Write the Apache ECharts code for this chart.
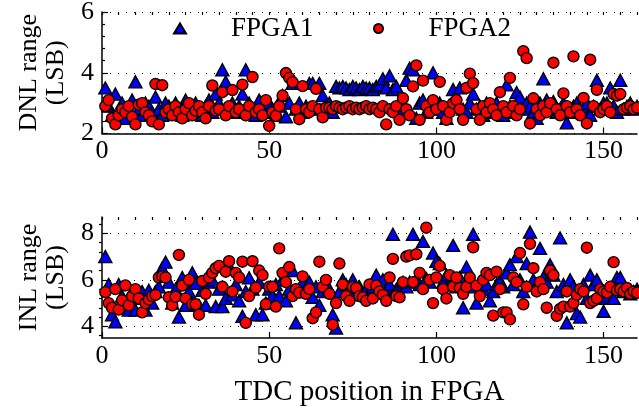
<!DOCTYPE html>
<html>
<head>
<meta charset="utf-8">
<script src="https://cdn.jsdelivr.net/npm/echarts@6/dist/echarts.min.js"></script>
<style>
  html, body { margin: 0; padding: 0; background: #fff; }
  #chart { width: 639px; height: 413px; }
</style>
</head>
<body>
<div id="chart"></div>
<script>
// TDC positions along the x axis
const tdcPos = Array.from({ length: 160 }, (_, i) => i + 1);

// DNL range (LSB)
const dnlFpga1 = [
  3.5, 2.9, 2.6, 3.3, 2.7, 3.0, 2.5, 2.8, 3.1, 3.7,
  2.8, 2.6, 3.0, 2.9, 2.7, 3.2, 2.8, 2.6, 3.0, 2.9,
  2.7, 3.0, 2.8, 2.6, 3.1, 2.9, 2.7, 3.0, 2.8, 2.6,
  2.9, 3.1, 2.7, 3.3, 3.0, 4.1, 3.7, 2.8, 3.0, 2.7,
  2.9, 3.3, 4.1, 3.0, 2.8, 2.6, 3.1, 2.9, 2.7, 3.0,
  2.8, 2.6, 2.9, 3.25, 2.55, 3.0, 3.65, 2.8, 3.0, 2.7,
  2.9, 3.65, 3.65, 2.8, 3.65, 3.25, 2.9, 3.0, 2.7, 3.55,
  3.5, 3.55, 3.5, 3.45, 3.55, 3.5, 3.45, 3.55, 3.5, 3.5,
  3.45, 3.55, 3.6, 3.8, 3.5, 3.9, 3.45, 3.55, 2.9, 2.8,
  3.75, 4.15, 4.1, 2.5, 3.0, 3.1, 2.7, 2.9, 4.0, 2.8,
  3.0, 2.7, 2.5, 2.9, 3.45, 3.0, 3.5, 2.8, 2.7, 3.0,
  3.3, 2.8, 2.9, 2.6, 3.0, 2.7, 2.9, 3.0, 2.8, 2.6,
  3.6, 2.9, 2.7, 3.35, 3.2, 2.8, 3.0, 2.9, 2.7, 2.5,
  3.0, 3.8, 3.1, 2.9, 3.05, 2.7, 2.8, 3.0, 2.35, 2.7,
  2.9, 3.0, 2.7, 2.8, 3.0, 2.6, 2.9, 3.75, 2.8, 3.0,
  3.0, 3.5, 2.9, 2.7, 3.75, 2.8, 2.9, 3.0, 2.8, 2.9
];
const dnlFpga2 = [
  2.9, 3.1, 2.5, 2.3, 2.6, 2.8, 2.7, 2.9, 2.55, 2.3,
  2.95, 3.0, 2.7, 2.6, 2.4, 3.63, 2.3, 3.59, 2.7, 2.8,
  2.6, 2.9, 2.7, 2.5, 2.8, 3.0, 2.6, 2.75, 2.9, 2.7,
  2.5, 2.9, 3.58, 2.75, 2.8, 3.36, 2.6, 2.9, 3.43, 2.7,
  2.8, 3.61, 2.6, 2.9, 3.86, 2.7, 2.8, 2.6, 3.1, 2.25,
  2.7, 2.58, 2.9, 3.25, 3.99, 3.83, 3.69, 2.8, 2.47, 3.56,
  2.8, 2.7, 2.9, 3.47, 2.8, 2.53, 2.85, 2.85, 2.8, 2.9,
  2.85, 2.8, 2.85, 2.9, 2.8, 2.85, 2.8, 2.85, 2.9, 2.8,
  2.85, 2.8, 2.7, 2.9, 2.3, 2.8, 2.7, 2.9, 2.45, 3.16,
  2.8, 2.6, 3.55, 4.24, 2.45, 3.74, 2.9, 2.7, 3.1, 2.8,
  3.7, 2.9, 2.45, 2.7, 3.0, 3.1, 2.8, 2.45, 3.5, 3.97,
  3.66, 2.8, 2.45, 2.9, 2.7, 3.0, 2.8, 2.6, 3.36, 2.9,
  2.7, 3.83, 2.9, 2.6, 2.8, 4.71, 4.48, 2.33, 3.16, 2.8,
  2.6, 2.9, 2.7, 3.0, 4.33, 2.8, 2.6, 3.32, 2.9, 2.7,
  4.54, 2.8, 2.6, 3.17, 2.33, 4.43, 2.9, 3.44, 2.7, 2.8,
  2.9, 2.7, 3.3, 3.25, 3.3, 2.8, 2.85, 2.9, 2.8, 2.85
];

// INL range (LSB)
const inlFpga1 = [
  7.0, 5.8, 4.5, 4.2, 5.8, 5.3, 5.0, 4.7, 5.5, 4.7,
  5.2, 5.5, 4.7, 5.55, 5.0, 5.5, 5.7, 6.5, 6.76, 5.9,
  5.0, 5.6, 4.4, 6.1, 4.9, 5.5, 6.3, 5.85, 4.9, 5.55,
  4.9, 5.9, 6.0, 4.85, 5.6, 4.85, 5.2, 6.6, 5.35, 5.8,
  5.1, 4.43, 5.5, 6.09, 5.6, 4.5, 5.9, 4.5, 5.0, 5.6,
  5.3, 5.8, 5.3, 6.0, 5.1, 5.6, 6.4, 4.15, 5.5, 5.9,
  5.6, 5.9, 5.25, 5.7, 4.9, 5.5, 5.8, 5.6, 4.5, 3.93,
  5.5, 6.0, 5.8, 5.6, 6.0, 5.5, 5.7, 5.35, 5.6, 5.45,
  5.7, 6.2, 5.5, 6.0, 5.6, 5.8, 7.96, 5.6, 5.8, 5.9,
  5.7, 5.9, 7.96, 6.0, 5.8, 7.65, 6.05, 5.9, 7.15, 6.8,
  6.7, 5.9, 6.2, 5.8, 7.48, 5.7, 6.1, 4.8, 6.55, 5.7,
  7.96, 5.0, 5.9, 5.6, 5.8, 5.1, 5.5, 5.8, 5.95, 5.7,
  6.3, 6.65, 5.8, 7.0, 6.0, 5.5, 6.7, 8.05, 6.0, 5.8,
  7.35, 6.1, 5.9, 6.65, 6.2, 5.5, 7.8, 5.8, 4.15, 6.0,
  5.7, 4.55, 4.4, 5.8, 5.2, 6.2, 5.8, 6.0, 5.2, 4.65,
  5.3, 5.6, 5.2, 6.1, 6.1, 5.5, 5.6, 5.4, 5.5, 5.6
];
const inlFpga2 = [
  5.47, 5.0, 4.8, 5.6, 4.72, 5.12, 5.76, 4.9, 5.3, 5.6,
  5.2, 4.6, 5.0, 5.15, 5.3, 5.35, 6.1, 6.15, 6.1, 5.25,
  4.9, 5.27, 7.07, 5.75, 5.2, 6.0, 4.95, 4.95, 4.5, 5.95,
  5.4, 6.1, 6.3, 6.5, 6.6, 5.7, 6.35, 6.8, 5.5, 6.3,
  6.1, 6.78, 4.15, 5.3, 6.8, 5.66, 6.4, 6.2, 4.95, 5.7,
  5.7, 4.85, 7.35, 6.3, 5.9, 6.55, 5.3, 5.6, 5.45, 6.15,
  5.4, 5.6, 4.35, 4.6, 6.78, 5.7, 6.0, 5.4, 4.07, 5.0,
  6.7, 5.8, 5.3, 5.1, 5.7, 5.65, 5.3, 5.25, 5.1, 5.8,
  5.2, 5.75, 5.5, 5.35, 5.1, 6.1, 6.9, 5.3, 5.25, 5.9,
  7.0, 7.05, 5.9, 7.1, 6.3, 5.6, 8.24, 6.0, 5.0, 6.1,
  6.6, 5.6, 5.2, 6.2, 5.7, 6.1, 5.65, 5.4, 5.7, 6.1,
  7.4, 5.75, 5.3, 6.0, 6.3, 6.2, 4.46, 6.35, 5.6, 4.6,
  4.6, 4.3, 6.1, 5.9, 7.15, 4.95, 5.7, 7.55, 6.5, 5.5,
  5.9, 5.6, 4.8, 6.4, 6.2, 4.45, 4.75, 4.85, 5.5, 4.85,
  5.0, 5.35, 5.6, 5.5, 7.38, 5.0, 5.1, 5.2, 5.6, 5.5,
  5.45, 5.7, 6.76, 5.55, 5.6, 5.5, 5.65, 5.4, 5.5, 5.45
];

// tick values
const dnlTicks = [2, 4, 6];
const inlTicks = [4, 6, 8];
const inlMinorTicks = [3.6, 4.4, 4.8, 5.2, 5.6, 6.4, 6.8, 7.2, 7.6, 8.4];

const FONT = 'Liberation Serif';
const black = '#000';

const chart = echarts.init(document.getElementById('chart'));

function xMain(gridIndex, withName) {
  return {
    type: 'value', gridIndex: gridIndex, min: 0, max: 160, interval: 50,
    axisLine: { lineStyle: { color: black, width: 1.5 } },
    axisTick: { inside: true, length: 6, lineStyle: { color: black, width: 1.2 } },
    axisLabel: { color: black, fontFamily: FONT, fontSize: 26, margin: 5, showMaxLabel: false },
    splitLine: { show: false },
    name: withName ? 'TDC position in FPGA' : '',
    nameLocation: 'middle', nameGap: 40,
    nameTextStyle: { color: black, fontFamily: FONT, fontSize: 29 }
  };
}
function xMinor(gridIndex) {
  return {
    type: 'value', gridIndex: gridIndex, min: 0, max: 160, interval: 5,
    axisLine: { show: false },
    axisTick: { inside: true, length: 3, lineStyle: { color: black, width: 1.2 } },
    axisLabel: { show: false },
    splitLine: { show: false }
  };
}
const nameStyle = { color: black, fontFamily: FONT, fontSize: 26, lineHeight: 27 };
const dotted = { color: black, width: 1, type: [1, 7] };

function pts(ys) {
  return tdcPos.map((x, i) => [x, ys[i]]);
}
function triSeries(x, y, ys) {
  return {
    type: 'scatter', name: 'FPGA1', xAxisIndex: x, yAxisIndex: y, data: pts(ys),
    symbol: 'triangle', symbolSize: [13, 12],
    itemStyle: { color: '#0000ff', borderColor: black, borderWidth: 1.4, opacity: 1 },
    emphasis: { disabled: true }
  };
}
function dotSeries(x, y, ys) {
  return {
    type: 'scatter', name: 'FPGA2', xAxisIndex: x, yAxisIndex: y, data: pts(ys),
    symbol: 'circle', symbolSize: 11,
    itemStyle: { color: '#ff0000', borderColor: black, borderWidth: 1.4, opacity: 1 },
    emphasis: { disabled: true }
  };
}

const inlRed = dotSeries(2, 1, inlFpga2);
inlRed.markLine = {
  silent: true, symbol: 'none', label: { show: false },
  lineStyle: dotted, z: 0,
  data: inlTicks.map(v => ({ yAxis: v }))
};

const legendText = { color: black, fontFamily: FONT, fontSize: 27, padding: [0, 0, 0, 40] };

const option = {
  animation: false,
  backgroundColor: '#fff',
  grid: [
    { left: 102, top: 12, width: 535, height: 121.5, outerBoundsMode: 'none' },
    { left: 102, top: 217, width: 535, height: 121, outerBoundsMode: 'none' }
  ],
  legend: [
    {
      data: ['FPGA1'], left: 168, top: 10, itemWidth: 12, itemHeight: 10,
      textStyle: legendText
    },
    {
      data: ['FPGA2'], left: 368, top: 10, itemWidth: 10, itemHeight: 9,
      textStyle: legendText
    }
  ],
  xAxis: [xMain(0, false), xMinor(0), xMain(1, true), xMinor(1)],
  yAxis: [
    {
      type: 'value', gridIndex: 0, min: 2, max: 6, interval: 2,
      axisLine: { show: true, lineStyle: { color: black, width: 1.5 } },
      axisTick: { show: true, inside: true, length: 6, lineStyle: { color: black, width: 1.2 } },
      minorTick: { show: true, splitNumber: 5, length: 3, lineStyle: { color: black, width: 1.2 } },
      axisLabel: { color: black, fontFamily: FONT, fontSize: 26, margin: 8,
        customValues: dnlTicks },
      splitLine: { show: true, lineStyle: dotted },
      name: 'DNL range\n(LSB)', nameLocation: 'middle', nameRotate: 90, nameGap: 32,
      nameTextStyle: nameStyle
    },
    {
      type: 'value', gridIndex: 1, min: 3.5, max: 8.7,
      axisLine: { show: true, lineStyle: { color: black, width: 1.5 } },
      axisTick: { show: true, inside: true, length: 6, customValues: inlTicks,
        lineStyle: { color: black, width: 1.2 } },
      axisLabel: { color: black, fontFamily: FONT, fontSize: 26, margin: 8,
        customValues: inlTicks },
      splitLine: { show: false },
      name: 'INL range\n(LSB)', nameLocation: 'middle', nameRotate: 90, nameGap: 32,
      nameTextStyle: nameStyle
    },
    {
      type: 'value', gridIndex: 1, min: 3.5, max: 8.7,
      axisLine: { show: false },
      axisTick: { show: true, inside: true, length: 3, customValues: inlMinorTicks,
        lineStyle: { color: black, width: 1.2 } },
      axisLabel: { show: false },
      splitLine: { show: false }
    }
  ],
  series: [
    triSeries(0, 0, dnlFpga1),
    dotSeries(0, 0, dnlFpga2),
    triSeries(2, 1, inlFpga1),
    inlRed
  ]
};
chart.setOption(option);
</script>
</body>
</html>
